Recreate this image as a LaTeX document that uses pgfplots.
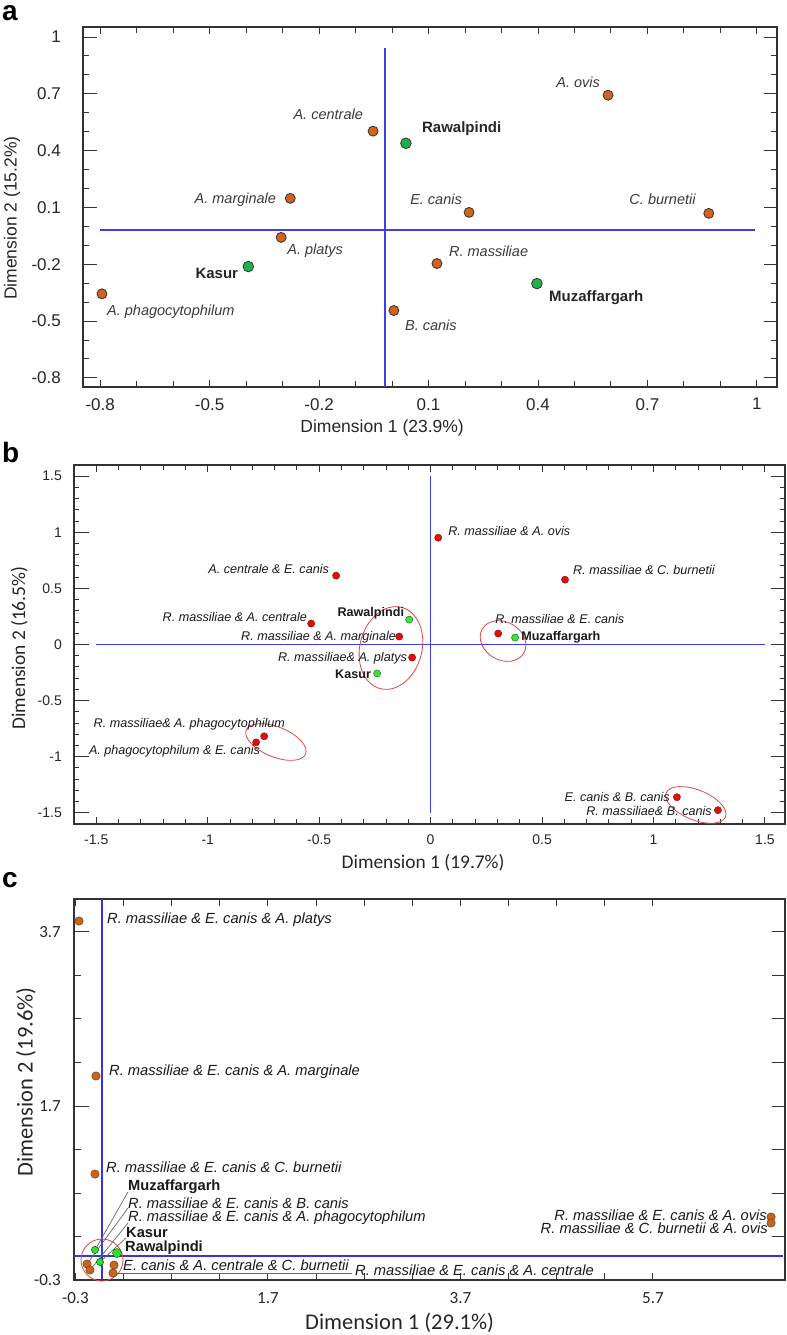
\documentclass[border=0pt]{standalone}
\usepackage{pgfplots}
\pgfplotsset{compat=1.18}
\usepackage{fontspec}
\setmainfont{Liberation Sans}
\newfontfamily\carlito{Carlito}

\definecolor{axc}{HTML}{333333}
\definecolor{orA}{HTML}{D2621C}
\definecolor{grA}{HTML}{1EB24B}
\definecolor{redB}{HTML}{DD1010}
\definecolor{grB}{HTML}{44DD44}
\definecolor{orC}{HTML}{C6651F}
\definecolor{grC}{HTML}{30E030}
\definecolor{blA}{HTML}{3C3CF0}
\definecolor{blC}{HTML}{3434E0}
\definecolor{ell}{HTML}{E04545}
\definecolor{lbl}{HTML}{3A3A3A}

\newcommand\fs[1]{\fontsize{#1bp}{#1bp}\selectfont}

\tikzset{
  la/.style={inner sep=0pt, text=lbl, font=\fs{14.5}\itshape},
  lab/.style={inner sep=0pt, text=black!85, font=\fs{15}\bfseries},
  lb/.style={inner sep=0pt, text=black!90, font=\fs{12.6}\itshape},
  lbb/.style={inner sep=0pt, text=black!90, font=\fs{12.6}\bfseries},
  lc/.style={inner sep=0pt, text=black!90, font=\fs{14.7}\itshape},
  lcb/.style={inner sep=0pt, text=black!90, font=\fs{14.7}\bfseries},
  lead/.style={draw=black!60, line width=0.7bp},
  longtick/.style={draw=axc, line width=1bp},
}

\pgfplotsset{
  pca/.style={
    scale only axis, clip=false, anchor=south west,
    tick align=inside,
    axis line style={draw=axc, line width=1.3bp},
    tick style={draw=axc, line width=1bp},
    major tick length=7bp, minor tick length=6bp,
  },
}

\begin{document}
\begin{tikzpicture}
\useasboundingbox (0,0) rectangle (787bp,-1335bp);

\node[anchor=base west, inner sep=0pt, font=\fs{28}\bfseries] at (2bp,-20bp) {a};
\node[anchor=base west, inner sep=0pt, font=\fs{28}\bfseries] at (2bp,-462bp) {b};
\node[anchor=base west, inner sep=0pt, font=\fs{28}\bfseries] at (2bp,-887bp) {c};

% ---------------- panel a
\begin{axis}[pca,
  at={(83bp,-387bp)}, width=694bp, height=360bp,
  xmin=-0.847, xmax=1.055, ymin=-0.848, ymax=1.053,
  xtick={-0.8,-0.5,-0.2,0.1,0.4,0.7,1},
  xticklabels={-0.8,-0.5,-0.2,0.1,0.4,0.7,1},
  ytick={-0.8,-0.5,-0.2,0.1,0.4,0.7,1},
  yticklabels={-0.8,-0.5,-0.2,0.1,0.4,0.7,1},
  minor x tick num=2, minor y tick num=2,
  xticklabel style={font=\fs{17}, text=black!85, inner sep=0pt, anchor=north, yshift=-11bp},
  yticklabel style={font=\fs{17}, text=black!85, inner sep=0pt, anchor=east, xshift=-22bp},
  xlabel={Dimension 1 (23.9\%)}, ylabel={Dimension 2 (15.2\%)},
  xlabel style={font=\fs{17.5}, text=black!85, at={(axis description cs:0.431,-0.114)}, anchor=center},
  ylabel style={font=\fs{17.5}, text=black!85, at={(axis description cs:-0.102,0.469)}, anchor=center},
]
\pgfplotsinvokeforeach{-0.8,-0.5,-0.2,0.1,0.4,0.7,1}{
  \draw[longtick] (axis cs:-0.847,#1) -- ++(14bp,0bp);
  \draw[longtick] (axis cs:1.055,#1) -- ++(-13bp,0bp);
}
\addplot[blA, line width=1.7bp] coordinates {(-0.8,-0.02) (0.995,-0.02)};
\addplot[blA, line width=1.7bp] coordinates {(-0.02,0.942) (-0.02,-0.848)};
% species
\addplot[only marks, mark=*, mark size=5bp, mark options={fill=orA, draw=black!80, line width=0.8bp}]
coordinates {
(-0.052,0.503) (-0.279,0.148) (-0.304,-0.058) (-0.795,-0.356) (0.005,-0.444)
(0.592,0.693) (0.211,0.074) (0.868,0.069) (0.123,-0.196)
};
% districts
\addplot[only marks, mark=*, mark size=5.3bp, mark options={fill=grA, draw=black!80, line width=0.8bp}]
coordinates {(-0.394,-0.212) (0.038,0.439) (0.397,-0.302)};

\node[la, anchor=east, xshift=-10bp, yshift=17bp] at (axis cs:-0.052,0.503) {A. centrale};
\node[la, anchor=east, xshift=-14bp, yshift=-1bp] at (axis cs:-0.279,0.148) {A. marginale};
\node[la, anchor=west, xshift=6bp, yshift=-13bp] at (axis cs:-0.304,-0.058) {A. platys};
\node[lab, anchor=east, xshift=-10bp, yshift=-7bp] at (axis cs:-0.394,-0.212) {Kasur};
\node[la, anchor=west, xshift=5bp, yshift=-18bp] at (axis cs:-0.795,-0.356) {A. phagocytophilum};
\node[la, anchor=west, xshift=11bp, yshift=-15bp] at (axis cs:0.005,-0.444) {B. canis};
\node[lab, anchor=west, xshift=16bp, yshift=15bp] at (axis cs:0.038,0.439) {Rawalpindi};
\node[la, anchor=east, xshift=-8bp, yshift=13bp] at (axis cs:0.592,0.693) {A. ovis};
\node[la, anchor=east, xshift=-7bp, yshift=13bp] at (axis cs:0.211,0.074) {E. canis};
\node[la, anchor=east, xshift=-13bp, yshift=14bp] at (axis cs:0.868,0.069) {C. burnetii};
\node[la, anchor=west, xshift=12bp, yshift=12bp] at (axis cs:0.123,-0.196) {R. massiliae};
\node[lab, anchor=west, xshift=12bp, yshift=-14bp] at (axis cs:0.397,-0.302) {Muzaffargarh};
\end{axis}

% ---------------- panel b
\begin{axis}[pca,
  at={(74bp,-824bp)}, width=711bp, height=359bp,
  xmin=-1.6, xmax=1.59, ymin=-1.6, ymax=1.6,
  xtick={-1.5,-1,-0.5,0,0.5,1,1.5},
  xticklabels={-1.5,-1,-0.5,0,0.5,1,1.5},
  ytick={-1.5,-1,-0.5,0,0.5,1,1.5},
  yticklabels={-1.5,-1,-0.5,0,0.5,1,1.5},
  minor x tick num=4, minor y tick num=4,
  minor tick length=5bp,
  xticklabel style={font=\fs{14}, text=black!85, inner sep=0pt, anchor=north, yshift=-11bp},
  yticklabel style={font=\fs{14}, text=black!85, inner sep=0pt, anchor=east, xshift=-12bp},
  xlabel={Dimension 1 (19.7\%)}, ylabel={Dimension 2 (16.5\%)},
  xlabel style={font=\carlito\fs{19.4}, text=black!85, at={(axis description cs:0.491,-0.109)}, anchor=center},
  ylabel style={font=\carlito\fs{19.4}, text=black!85, at={(axis description cs:-0.077,0.49)}, anchor=center},
]
\pgfplotsinvokeforeach{-1.5,-1,-0.5,0,0.5,1,1.5}{
  \draw[longtick] (axis cs:-1.6,#1) -- ++(15bp,0bp);
  \draw[longtick] (axis cs:1.59,#1) -- ++(-14bp,0bp);
}
\addplot[blA, line width=1.7bp] coordinates {(-1.5,0) (1.5,0)};
\addplot[blA, line width=1.7bp] coordinates {(0,1.5) (0,-1.5)};
% ellipses
\draw[ell, line width=0.8bp, rotate around={-15:(axis cs:-0.178,-0.031)}] (axis cs:-0.178,-0.031) ellipse[x radius=31bp, y radius=42bp];
\draw[ell, line width=0.8bp, rotate around={-30:(axis cs:0.325,0.031)}] (axis cs:0.325,0.031) ellipse[x radius=24bp, y radius=19bp];
\draw[ell, line width=0.8bp, rotate around={-22:(axis cs:-0.694,-0.869)}] (axis cs:-0.694,-0.869) ellipse[x radius=32bp, y radius=15bp];
\draw[ell, line width=0.8bp, rotate around={-22:(axis cs:1.19,-1.43)}] (axis cs:1.19,-1.43) ellipse[x radius=32bp, y radius=15bp];
% pairs
\addplot[only marks, mark=*, mark size=3.6bp, mark options={fill=redB, draw=red!60!black, line width=0.4bp}]
coordinates {
(-0.424,0.614) (-0.536,0.187) (-0.141,0.071) (-0.083,-0.116) (-0.747,-0.818)
(-0.783,-0.872) (0.034,0.952) (0.603,0.578) (0.303,0.098) (1.105,-1.361) (1.289,-1.477)
};
% districts
\addplot[only marks, mark=*, mark size=3.6bp, mark options={fill=grB, draw=green!45!black, line width=0.4bp}]
coordinates {(-0.096,0.222) (-0.240,-0.258) (0.379,0.062)};

\node[lb, anchor=east, xshift=-7bp, yshift=7bp] at (axis cs:-0.424,0.614) {A. centrale \& E. canis};
\node[lb, anchor=east, xshift=-4bp, yshift=7bp] at (axis cs:-0.536,0.187) {R. massiliae \& A. centrale};
\node[lbb, anchor=east, xshift=-5bp, yshift=6bp] at (axis cs:-0.096,0.222) {Rawalpindi};
\node[lb, anchor=east, xshift=-3bp, yshift=-1bp] at (axis cs:-0.141,0.071) {R. massiliae \& A. marginale};
\node[lb, anchor=east, xshift=-5bp, yshift=-1bp] at (axis cs:-0.083,-0.116) {R. massiliae\& A. platys};
\node[lbb, anchor=east, xshift=-6bp, yshift=-1bp] at (axis cs:-0.240,-0.258) {Kasur};
\node[lb, anchor=east, xshift=21bp, yshift=12bp] at (axis cs:-0.747,-0.818) {R. massiliae\& A. phagocytophilum};
\node[lb, anchor=east, xshift=4bp, yshift=-9bp] at (axis cs:-0.783,-0.872) {A. phagocytophilum \& E. canis};
\node[lb, anchor=west, xshift=10bp, yshift=7bp] at (axis cs:0.034,0.952) {R. massiliae \& A. ovis};
\node[lb, anchor=west, xshift=8bp, yshift=10bp] at (axis cs:0.603,0.578) {R. massiliae \& C. burnetii};
\node[lb, anchor=west, xshift=-3bp, yshift=15bp] at (axis cs:0.303,0.098) {R. massiliae \& E. canis};
\node[lbb, anchor=west, xshift=6bp, yshift=0bp] at (axis cs:0.379,0.062) {Muzaffargarh};
\node[lb, anchor=east, xshift=-7bp, yshift=0bp] at (axis cs:1.105,-1.361) {E. canis \& B. canis};
\node[lb, anchor=east, xshift=-6bp, yshift=-1bp] at (axis cs:1.289,-1.477) {R. massiliae\& B. canis};
\end{axis}

% ---------------- panel c
\begin{axis}[pca,
  at={(74bp,-1280bp)}, width=711bp, height=381bp,
  xmin=-0.315, xmax=7.072, ymin=-0.3, ymax=4.079,
  xtick={-0.3,1.7,3.7,5.7}, xticklabels={-0.3,1.7,3.7,5.7},
  ytick={-0.3,1.7,3.7}, yticklabels={-0.3,1.7,3.7},
  minor x tick num=3, minor y tick num=3,
  minor tick length=7bp,
  xticklabel style={font=\carlito\fs{17}, text=black!85, inner sep=0pt, anchor=north, yshift=-12bp},
  yticklabel style={font=\carlito\fs{17}, text=black!85, inner sep=0pt, anchor=east, xshift=-13bp},
  xlabel={Dimension 1 (29.1\%)}, ylabel={Dimension 2 (19.6\%)},
  xlabel style={font=\carlito\fs{22.5}, text=black!85, at={(axis description cs:0.458,-0.113)}, anchor=center},
  ylabel style={font=\carlito\fs{22.5}, text=black!85, at={(axis description cs:-0.0675,0.52)}, anchor=center},
]
\pgfplotsinvokeforeach{1.7,3.7}{
  \draw[longtick] (axis cs:-0.315,#1) -- ++(15bp,0bp);
}
\pgfplotsinvokeforeach{0.2,0.7,1.2,1.7,2.2,2.7,3.2,3.7}{
  \draw[longtick] (axis cs:7.072,#1) -- ++(-13bp,0bp);
}
\addplot[draw=blC, line width=1.8bp] coordinates {(-0.315,-0.025) (7.05,-0.025)};
\addplot[draw=blC, line width=1.8bp] coordinates {(-0.02,4.079) (-0.02,-0.3)};
\draw[ell, line width=0.8bp] (axis cs:-0.024,-0.07) circle[radius=21bp];
% leader lines
\draw[lead] (axis cs:-0.097,0.045) -- ([xshift=33bp,yshift=58bp]axis cs:-0.097,0.045);
\draw[lead] (axis cs:-0.18,-0.116) -- ([xshift=41bp,yshift=56bp]axis cs:-0.18,-0.116);
\draw[lead] (axis cs:-0.149,-0.185) -- ([xshift=38bp,yshift=47bp]axis cs:-0.149,-0.185);
\draw[lead] (axis cs:-0.045,-0.093) -- ([xshift=26bp,yshift=24bp]axis cs:-0.045,-0.093);
\draw[lead] (axis cs:0.09,-0.22) -- ([xshift=239bp,yshift=0bp]axis cs:0.09,-0.22);
% triplets
\addplot[only marks, mark=*, mark size=4.2bp, mark options={fill=orC, draw=orC!60!black, line width=0.5bp}]
coordinates {
(-0.263,3.826) (-0.087,2.045) (-0.097,0.918)
(-0.18,-0.116) (-0.149,-0.185) (0.101,-0.128) (0.09,-0.22)
(6.927,0.424) (6.927,0.355)
};
% districts
\addplot[only marks, mark=*, mark size=3.6bp, mark options={fill=grC, draw=green!40!black, line width=0.5bp}]
coordinates {(-0.097,0.045) (-0.045,-0.093)};
\addplot[only marks, mark=*, mark size=4.5bp, mark options={fill=grC, draw=green!40!black, line width=0.5bp}]
coordinates {(0.132,0.01)};

\node[lc, anchor=west, xshift=28bp, yshift=1bp] at (axis cs:-0.263,3.826) {R. massiliae \& E. canis \& A. platys};
\node[lc, anchor=west, xshift=13bp, yshift=4bp] at (axis cs:-0.087,2.045) {R. massiliae \& E. canis \& A. marginale};
\node[lc, anchor=west, xshift=11bp, yshift=7bp] at (axis cs:-0.097,0.918) {R. massiliae \& E. canis \& C. burnetii};
\node[lcb, anchor=west, xshift=33bp, yshift=63bp] at (axis cs:-0.097,0.045) {Muzaffargarh};
\node[lc, anchor=west, xshift=41bp, yshift=61bp] at (axis cs:-0.18,-0.116) {R. massiliae \& E. canis \& B. canis};
\node[lc, anchor=west, xshift=38bp, yshift=52bp] at (axis cs:-0.149,-0.185) {R. massiliae \& E. canis \& A. phagocytophilum};
\node[lcb, anchor=west, xshift=26bp, yshift=29bp] at (axis cs:-0.045,-0.093) {Kasur};
\node[lcb, anchor=west, xshift=8bp, yshift=5bp] at (axis cs:0.132,0.01) {Rawalpindi};
\node[lc, anchor=west, xshift=9bp, yshift=0bp] at (axis cs:0.101,-0.128) {E. canis \& A. centrale \& C. burnetii};
\node[lc, anchor=west, xshift=242bp, yshift=3bp] at (axis cs:0.09,-0.22) {R. massiliae \& E. canis \& A. centrale};
\node[lc, anchor=east, xshift=-4bp, yshift=2bp] at (axis cs:6.927,0.424) {R. massiliae \& E. canis \& A. ovis};
\node[lc, anchor=east, xshift=-3bp, yshift=-5bp] at (axis cs:6.927,0.355) {R. massiliae \& C. burnetii \& A. ovis};
\end{axis}
\end{tikzpicture}
\end{document}
